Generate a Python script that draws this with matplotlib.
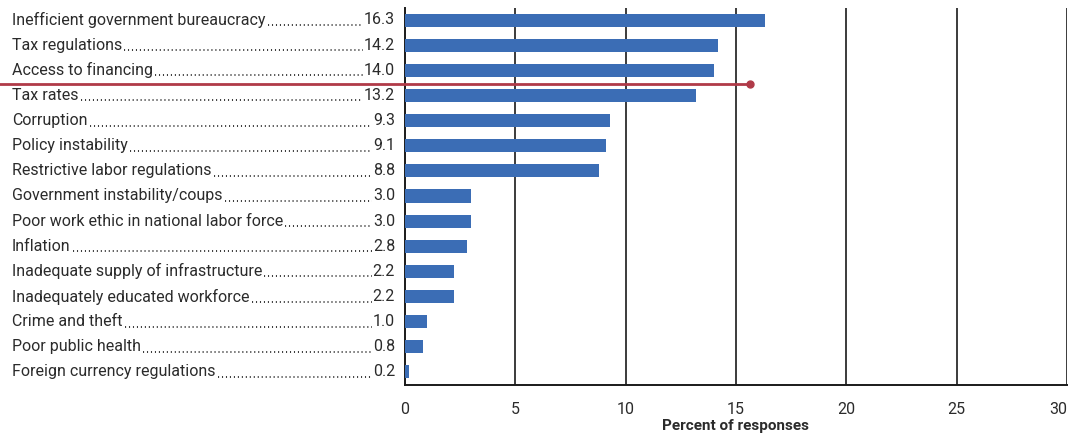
import matplotlib
matplotlib.use("Agg")
import matplotlib.pyplot as plt
from matplotlib.lines import Line2D

categories = [
    "Inefficient government bureaucracy",
    "Tax regulations",
    "Access to financing",
    "Tax rates",
    "Corruption",
    "Policy instability",
    "Restrictive labor regulations",
    "Government instability/coups",
    "Poor work ethic in national labor force",
    "Inflation",
    "Inadequate supply of infrastructure",
    "Inadequately educated workforce",
    "Crime and theft",
    "Poor public health",
    "Foreign currency regulations",
]
values = [16.3, 14.2, 14.0, 13.2, 9.3, 9.1, 8.8, 3.0, 3.0, 2.8, 2.2, 2.2, 1.0, 0.8, 0.2]
xticks = [0, 5, 10, 15, 20, 25, 30]

plt.rcParams['font.family'] = ['Roboto', 'DejaVu Sans']
W, H = 1070, 436
fig = plt.figure(figsize=(W / 100, H / 100), dpi=100)
ax = fig.add_axes([405 / W, 1 - 385 / H, 662 / W, 377 / H])

bar_color = '#3b6db5'
text_color = '#2b2b2b'
y = list(range(len(categories)))
ax.barh(y, values, height=0.52, color=bar_color, zorder=3)
ax.set_xlim(0, 30)
ax.set_ylim(len(categories) - 0.48, -0.48)
ax.set_xticks(xticks)
ax.set_xticklabels([str(t) for t in xticks], fontsize=11.5, color=text_color)
ax.get_xticklabels()[-1].set_horizontalalignment('right')
ax.tick_params(axis='x', length=0, pad=12)
ax.set_yticks([])
for t in xticks[1:]:
    ax.axvline(t, color='#1a1a1a', lw=1.2, zorder=1)
for s in ['top', 'right']:
    ax.spines[s].set_visible(False)
for s in ['left', 'bottom']:
    ax.spines[s].set_color('#1a1a1a')
    ax.spines[s].set_linewidth(1.4)
fig.text(736 / W, 3 / H, "Percent of responses", ha='center', va='bottom',
         fontsize=11, fontweight='bold', color=text_color)

# labels with dot leaders
names, nums = [], []
for i, (c, v) in enumerate(zip(categories, values)):
    yy = 1 - (20 + i * 25.14) / H
    n = fig.text(12 / W, yy, c, ha='left', va='center', fontsize=11.5, color=text_color)
    m = fig.text(395 / W, yy, f"{v:.1f}", ha='right', va='center', fontsize=11.5, color=text_color)
    names.append(n)
    nums.append(m)

fig.canvas.draw()
r = fig.canvas.get_renderer()
for n, m in zip(names, nums):
    b1 = n.get_window_extent(r)
    b2 = m.get_window_extent(r)
    yb = b2.y0 + 2.5
    fig.add_artist(Line2D([(b1.x1 + 2) / W, (b2.x0 - 1) / W], [yb / H, yb / H],
                          transform=fig.transFigure, color=text_color,
                          lw=1.3, linestyle=(0, (0.6, 1.6))))

# hand-drawn red annotation line
fig.add_artist(Line2D([0, 750 / W], [1 - 84 / H, 1 - 84 / H], transform=fig.transFigure,
                      color='#b03a48', lw=2, zorder=10))
fig.add_artist(Line2D([750 / W], [1 - 84 / H], transform=fig.transFigure,
                      color='#b03a48', marker='o', markersize=5, zorder=10))

fig.savefig("out.png", dpi=100, facecolor='white')
